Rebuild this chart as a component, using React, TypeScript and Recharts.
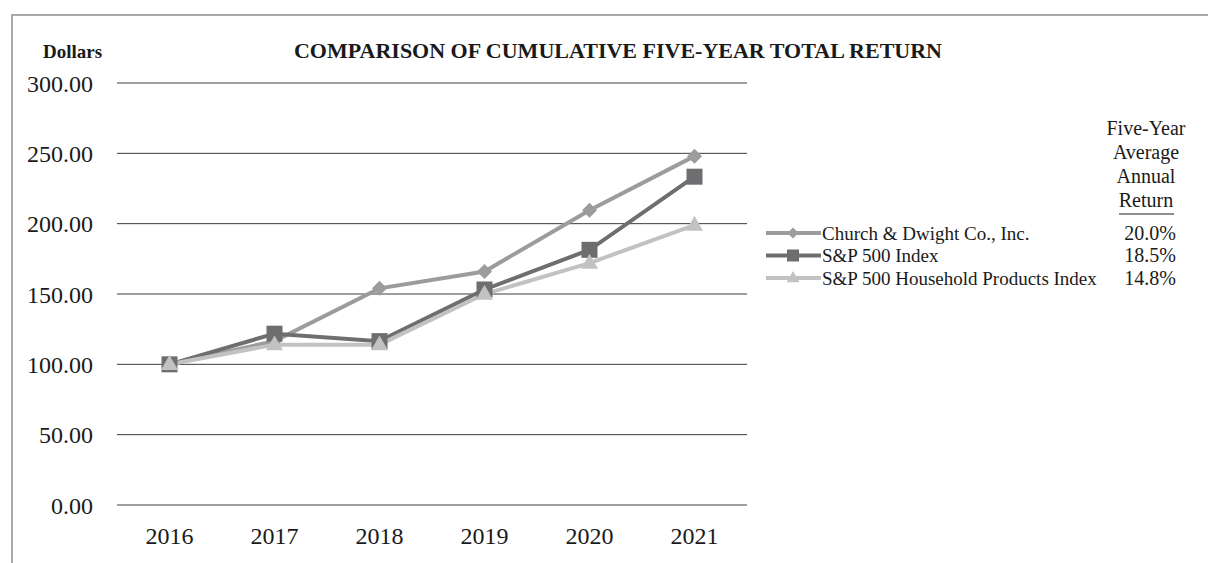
import { LineChart, Line, XAxis, YAxis, CartesianGrid } from 'recharts'

const years = ['2016', '2017', '2018', '2019', '2020', '2021']
const church = [100, 116.5, 154, 166, 209.5, 248]
const sp500 = [100, 121.8, 116.5, 153.2, 181.4, 233.4]
const household = [100, 114, 114, 150, 172, 199]
const yTicks = [0, 50, 100, 150, 200, 250, 300]

const seriesNames = ['Church & Dwight Co., Inc.', 'S&P 500 Index', 'S&P 500 Household Products Index']
const avgReturns = ['20.0%', '18.5%', '14.8%']
const colors = ['#9c9c9c', '#6e6e70', '#c2c2c2']
const header = ['Five-Year', 'Average', 'Annual', 'Return']

const data = years.map((y, i) => ({ year: y, church: church[i], sp500: sp500[i], household: household[i] }))

const FONT = '"Liberation Serif", "Times New Roman", serif'

function marker(kind: string, cx: number, cy: number, s: number, fill: string, key?: any) {
  if (kind === 'diamond')
    return <path key={key} d={`M${cx},${cy - s}L${cx + s},${cy}L${cx},${cy + s}L${cx - s},${cy}Z`} fill={fill} />
  if (kind === 'square')
    return <rect key={key} x={cx - s} y={cy - s} width={s * 2} height={s * 2} fill={fill} />
  const h = s * 1.75
  return <path key={key} d={`M${cx},${cy - h * 0.62}L${cx + s},${cy + h * 0.38}L${cx - s},${cy + h * 0.38}Z`} fill={fill} />
}

const kinds = ['diamond', 'square', 'triangle']
const dotSize = [7.5, 8, 8.5]

const dotFor = (k: number) => (p: any) => marker(kinds[k], p.cx, p.cy, dotSize[k], colors[k], p.index)

export default function App() {
  return (
    <div style={{ position: 'absolute', left: 0, top: 0, width: 1208, height: 563, background: '#fff', overflow: 'hidden', fontFamily: FONT }}>
      <div style={{ position: 'absolute', left: 11, top: 14, width: 1300, height: 700, borderTop: '2px solid #a8a8a8', borderLeft: '2px solid #a8a8a8' }} />
      <LineChart width={1208} height={563} data={data} margin={{ top: 83, right: 461, bottom: 28, left: 12 }} style={{ position: 'absolute', left: 0, top: 0 }}>
        <CartesianGrid horizontal vertical={false} stroke="#3c3c3c" strokeWidth={1} />
        <XAxis dataKey="year" axisLine={false} tickLine={false} tickSize={0} tickMargin={22} height={30}
          padding={{ left: 52.5, right: 52.5 }}
          tick={{ fontSize: 24, fill: '#1a1a1a', fontFamily: FONT }} interval={0} />
        <YAxis type="number" domain={[0, 300]} ticks={yTicks} width={105} axisLine={false} tickLine={false} tickSize={0} tickMargin={24}
          tick={{ fontSize: 24, fill: '#1a1a1a', fontFamily: FONT }} tickFormatter={(v: number) => v.toFixed(2)} />
        <Line dataKey="church" stroke={colors[0]} strokeWidth={4} dot={dotFor(0)} isAnimationActive={false} />
        <Line dataKey="sp500" stroke={colors[1]} strokeWidth={4} dot={dotFor(1)} isAnimationActive={false} />
        <Line dataKey="household" stroke={colors[2]} strokeWidth={4} dot={dotFor(2)} isAnimationActive={false} />
      </LineChart>
      <svg width={1208} height={563} style={{ position: 'absolute', left: 0, top: 0, pointerEvents: 'none' }}>
        <text x={43} y={58} fontSize={19} fontWeight="bold" fontFamily={FONT} fill="#1a1a1a">Dollars</text>
        <text x={618} y={58} fontSize={22} fontWeight="bold" fontFamily={FONT} fill="#1a1a1a" textAnchor="middle">
          COMPARISON OF CUMULATIVE FIVE-YEAR TOTAL RETURN
        </text>
        {header.map((h, i) => (
          <text key={h} x={1146} y={135 + i * 24} fontSize={20} fontFamily={FONT} fill="#1a1a1a" textAnchor="middle">{h}</text>
        ))}
        <line x1={1119} x2={1174} y1={214} y2={214} stroke="#1a1a1a" strokeWidth={1} />
        {seriesNames.map((n, i) => {
          const cy = 233 + i * 22.5
          return (
            <g key={n}>
              <line x1={766} x2={821} y1={cy} y2={cy} stroke={colors[i]} strokeWidth={4} />
              {marker(kinds[i], 793, cy, [5.5, 6, 6.5][i], colors[i])}
              <text x={822} y={cy + 6.5} fontSize={19} fontFamily={FONT} fill="#1a1a1a">{n}</text>
              <text x={1176} y={cy + 6.5} fontSize={20} fontFamily={FONT} fill="#1a1a1a" textAnchor="end">{avgReturns[i]}</text>
            </g>
          )
        })}
      </svg>
    </div>
  )
}
